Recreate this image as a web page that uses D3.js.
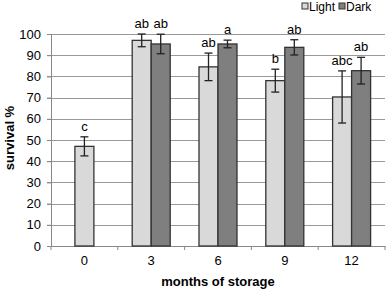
<!DOCTYPE html>
<html lang="en">
<head>
<meta charset="UTF-8">
<title>survival</title>
<script src="https://cdn.jsdelivr.net/npm/d3@7"></script>
<style>
    body { margin:0; background:#fff; }
    text { font-family: "Liberation Sans", Arial, sans-serif; fill:#000; }
    .axis text { font-size:13px; }
    .grid line { stroke:#999; stroke-width:1; }
</style>
</head>
<body>
<div class="app"></div>
<script>
    // data
    var months = ['0','3','6','9','12'];
    var series = ['Light','Dark'];
    var lightVal = [47, 97, 84.5, 78, 70.3];
    var lightErr = [4.5, 3, 6.5, 5.4, 12.3];
    var lightLetter = ['c','ab','ab','b','abc'];
    var darkVal = [null, 95.3, 95.3, 93.7, 82.7];
    var darkErr = [null, 4.6, 1.8, 3.6, 6.3];
    var darkLetter = [null,'ab','a','ab','ab'];
    var yTicks = [0,10,20,30,40,50,60,70,80,90,100];

    var width = 387, height = 290;
    var margin = {top:34, right:2, bottom:44, left:51};
    var w = width - margin.left - margin.right,
        h = height - margin.top - margin.bottom;

    var svg = d3.select('.app').append('svg')
        .attr('width', width).attr('height', height);
    var g = svg.append('g')
        .attr('transform', 'translate(' + margin.left + ',' + margin.top + ')');

    var x = d3.scaleBand().domain(months).range([0, w]);
    var y = d3.scaleLinear().domain([0, 100]).range([h, 0]);
    var barW = 19;

    // gridlines
    g.append('g').attr('class','grid')
        .selectAll('line').data(yTicks.slice(1)).enter().append('line')
        .attr('x1', -4).attr('x2', w)
        .attr('y1', function(d){ return Math.round(y(d)) + 0.5; })
        .attr('y2', function(d){ return Math.round(y(d)) + 0.5; });

    // y axis
    var yAxis = g.append('g').attr('class','axis')
        .call(d3.axisLeft(y).tickValues(yTicks).tickSize(4).tickPadding(6));
    yAxis.select('.domain').attr('stroke','#888');
    yAxis.selectAll('.tick line').attr('stroke','#888');

    // x axis: ticks at category boundaries
    var xAxis = g.append('g').attr('class','axis')
        .attr('transform','translate(0,' + h + ')')
        .call(d3.axisBottom(x).tickSize(0).tickPadding(10));
    xAxis.select('.domain').attr('stroke','#888');
    xAxis.selectAll('.bound').data(d3.range(months.length + 1)).enter().append('line')
        .attr('x1', function(i){ return i * x.step(); })
        .attr('x2', function(i){ return i * x.step(); })
        .attr('y1', 0).attr('y2', 4).attr('stroke','#888');

    // build bar list
    var bars = [];
    months.forEach(function(m, i){
        var both = darkVal[i] != null;
        var cx = x(m) + x.bandwidth() / 2;
        bars.push({m:m, v:lightVal[i], e:lightErr[i], t:lightLetter[i], s:'Light',
                   x: both ? cx - barW : cx - barW / 2});
        if (both) bars.push({m:m, v:darkVal[i], e:darkErr[i], t:darkLetter[i], s:'Dark', x: cx});
    });
    var color = d3.scaleOrdinal().domain(series).range(['#d9d9d9','#7f7f7f']);

    g.selectAll('.bar').data(bars).enter().append('rect')
        .attr('x', function(d){ return d.x; })
        .attr('y', function(d){ return y(d.v); })
        .attr('width', barW)
        .attr('height', function(d){ return h - y(d.v); })
        .attr('fill', function(d){ return color(d.s); })
        .attr('stroke', '#333').attr('stroke-width', 1.3);

    // error bars
    var eb = g.selectAll('.err').data(bars).enter().append('g')
        .attr('stroke','#222').attr('stroke-width',1.3);
    eb.append('line')
        .attr('x1', function(d){ return d.x + barW/2; })
        .attr('x2', function(d){ return d.x + barW/2; })
        .attr('y1', function(d){ return y(d.v + d.e); })
        .attr('y2', function(d){ return y(d.v - d.e); });
    [1, -1].forEach(function(sgn){
        eb.append('line')
            .attr('x1', function(d){ return d.x + barW/2 - 4; })
            .attr('x2', function(d){ return d.x + barW/2 + 4; })
            .attr('y1', function(d){ return y(d.v + sgn * d.e); })
            .attr('y2', function(d){ return y(d.v + sgn * d.e); });
    });

    // letters
    g.selectAll('.lett').data(bars).enter().append('text')
        .attr('x', function(d){ return d.x + barW/2; })
        .attr('y', function(d){ return y(d.v + d.e) - 6; })
        .attr('text-anchor','middle')
        .style('font-size','13px')
        .text(function(d){ return d.t; });

    // axis titles
    svg.append('text')
        .attr('transform','translate(14,138) rotate(-90)')
        .attr('text-anchor','middle')
        .style('font-size','13px').style('font-weight','bold')
        .text('survival %');
    svg.append('text')
        .attr('x', margin.left + w / 2).attr('y', 286)
        .attr('text-anchor','middle')
        .style('font-size','13px').style('font-weight','bold')
        .text('months of storage');

    // legend
    var leg = svg.append('g').selectAll('g').data(series).enter().append('g')
        .attr('transform', function(d, i){ return 'translate(' + (302 + i * 37) + ',0)'; });
    leg.append('rect')
        .attr('x', 0).attr('y', 3).attr('width', 6).attr('height', 6)
        .attr('fill', function(d){ return color(d); })
        .attr('stroke','#333').attr('stroke-width',1);
    leg.append('text')
        .attr('x', 7).attr('y', 10.5)
        .style('font-size','12px')
        .text(function(d){ return d; });
</script>
</body>
</html>
